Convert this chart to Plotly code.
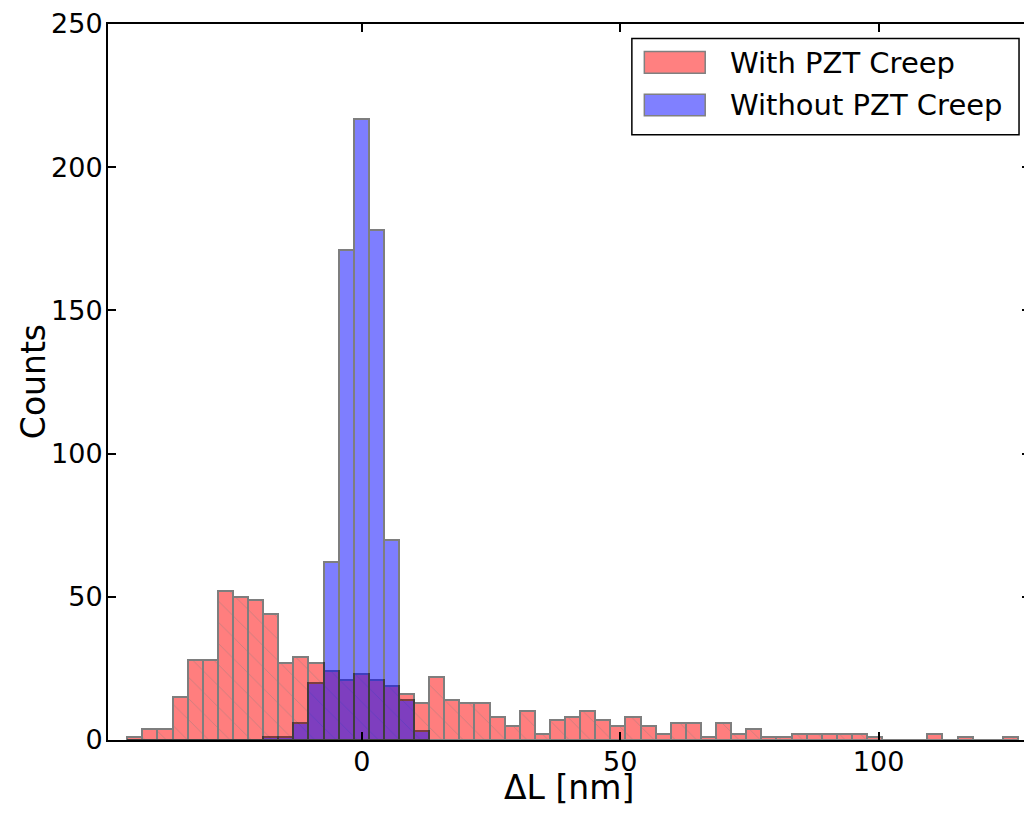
import plotly.graph_objects as go

# ---- data ----
bin_start = -45.37          # left edge of first bin (nm)
bin_width = 2.921           # bin width (nm)

counts_with_creep = [1, 4, 4, 15, 28, 28, 52, 50, 49, 44,
                     27, 29, 27, 24, 21, 23, 21, 19, 16, 13,
                     22, 14, 13, 13, 8, 5, 10, 2, 7, 8,
                     10, 7, 5, 8, 5, 2, 6, 6, 1, 6,
                     2, 4, 1, 1, 2, 2, 2, 2, 2, 1,
                     0, 0, 0, 2, 0, 1, 0, 0, 1]

counts_without_creep = [0, 0, 0, 0, 0, 0, 0, 0, 0, 1,
                        1, 6, 20, 62, 171, 217, 178, 70, 14, 3]

x_ticks = [0, 50, 100]
y_ticks = [0, 50, 100, 150, 200, 250]
series_names = ["With PZT Creep", "Without PZT Creep"]

x_range = [-49.1, 129.3]
y_range = [0, 250]

# ---- figure geometry (page pixels; the page body adds an 8px offset) ----
OFF = 8
PAGE_W, PAGE_H = 1032, 819
W, H = PAGE_W - OFF, PAGE_H - OFF
PL, PT, PR, PB = 108, 22, 1032, 740          # plot area in page pixels
ML, MT = PL - OFF, PT - OFF
MR = W - (PR - OFF)
MB = H - (PB - OFF)
PW, PH = PR - PL, PB - PT

def centers(n):
    return [bin_start + bin_width * (i + 0.5) for i in range(n)]

FONT = "DejaVu Sans"

fig = go.Figure()
fig.add_trace(go.Bar(
    x=centers(len(counts_with_creep)), y=counts_with_creep, width=bin_width,
    name=series_names[0], opacity=0.5,
    marker=dict(color="red",
                line=dict(color="black", width=2),
                pattern=dict(shape="\\", size=15, solidity=0.06,
                             fgcolor="#700000", bgcolor="red", fgopacity=0.7)),
    showlegend=False,
))
fig.add_trace(go.Bar(
    x=centers(len(counts_without_creep)), y=counts_without_creep, width=bin_width,
    name=series_names[1], opacity=0.5,
    marker=dict(color="blue", line=dict(color="black", width=2)),
    showlegend=False,
))

axis_common = dict(showline=True, linecolor="black", linewidth=2, mirror="ticks",
                   ticks="inside", ticklen=8, tickwidth=1.5, tickcolor="black",
                   showgrid=False, zeroline=False, ticklabeloverflow="allow",
                   tickfont=dict(family=FONT, size=27, color="black"))

fig.update_xaxes(range=x_range, tickvals=x_ticks, ticklabelstandoff=-3, **axis_common)
fig.update_yaxes(range=y_range, tickvals=y_ticks, ticklabelstandoff=-2, **axis_common)

def px(xp):
    return (xp - PL) / PW

def py(yp):
    return (PB - yp) / PH

shapes = []
annotations = []
# custom legend (box, swatches, labels)
shapes.append(dict(type="rect", xref="paper", yref="paper",
                   x0=px(633), x1=px(1021), y0=py(133), y1=py(36.5),
                   line=dict(color="black", width=1.5), fillcolor="white", layer="above"))
shapes.append(dict(type="rect", xref="paper", yref="paper",
                   x0=px(645.5), x1=px(706.5), y0=py(71.5), y1=py(49.5),
                   line=dict(color="#808080", width=1.5), fillcolor="#ff8080", layer="above"))
shapes.append(dict(type="rect", xref="paper", yref="paper",
                   x0=px(645.5), x1=px(706.5), y0=py(114), y1=py(92.5),
                   line=dict(color="#808080", width=1.5), fillcolor="#8080ff", layer="above"))
for name, yc in zip(series_names, [61.5, 103.5]):
    annotations.append(dict(text=name, xref="paper", yref="paper",
                            x=px(729), y=py(yc), xanchor="left", yanchor="middle",
                            showarrow=False,
                            font=dict(family=FONT, size=29, color="black")))
# axis titles
annotations.append(dict(text="ΔL [nm]", xref="paper", yref="paper",
                        x=0.5, y=py(788), xanchor="center", yanchor="middle",
                        showarrow=False, borderpad=0,
                        font=dict(family=FONT, size=33, color="black")))
annotations.append(dict(text="Counts", xref="paper", yref="paper",
                        x=px(33), y=0.5, xanchor="center", yanchor="middle",
                        textangle=-90, showarrow=False,
                        font=dict(family=FONT, size=33, color="black")))

fig.update_layout(
    width=W, height=H,
    margin=dict(l=ML, r=MR, t=MT, b=MB, pad=0),
    barmode="overlay", bargap=0,
    paper_bgcolor="white", plot_bgcolor="white",
    shapes=shapes, annotations=annotations,
    font=dict(family=FONT, color="black"),
)

fig.write_html("out.html")
